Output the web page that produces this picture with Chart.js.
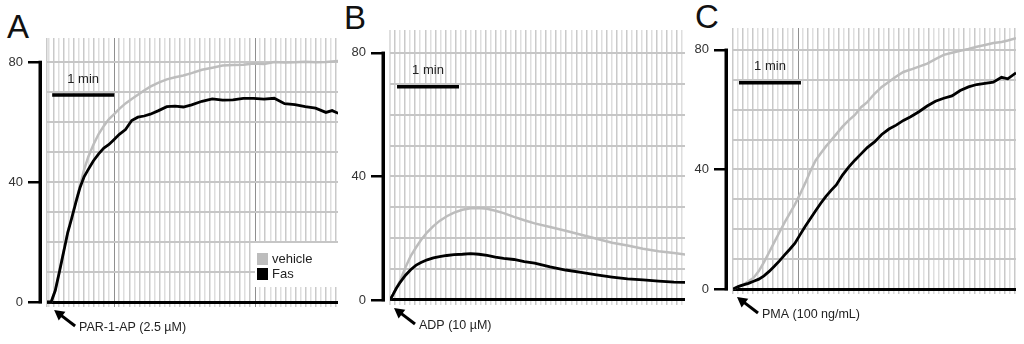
<!DOCTYPE html>
<html>
<head>
<meta charset="utf-8">
<script src="https://cdn.jsdelivr.net/npm/chart.js@4.4.1/dist/chart.umd.min.js"></script>
<style>
  html, body { margin: 0; padding: 0; background: #fff; }
  body { width: 1024px; height: 344px; position: relative; overflow: hidden; font-family: "Liberation Sans", Arial, sans-serif; }
  canvas { position: absolute; top: 0; }
  .letter { position: absolute; font-size: 33px; line-height: 1; color: #111; }
</style>
</head>
<body>
<div class="letter" style="left:7px;top:10px">A</div>
<div class="letter" style="left:344px;top:1px">B</div>
<div class="letter" style="left:695px;top:0px">C</div>
<canvas id="chartA" style="left:0px" width="340" height="344"></canvas>
<canvas id="chartB" style="left:340px" width="350" height="344"></canvas>
<canvas id="chartC" style="left:690px" width="334" height="344"></canvas>
<script>
// time in seconds from the left edge of the chart paper, aggregation in %
const seriesNames = ['vehicle', 'Fas'];
const yAxisTicks = [0, 40, 80];
const yGridTicks = [0, 10, 20, 30, 40, 50, 60, 70, 80];

// A: PAR-1-AP
const aTime = [0,4,8,12,16,20,24,28,32,36,40,45,50,55,60,65,70,76,82,88,94,100,108,116,124,132,140,150,160,170,180,190,200,210,220,230,240,250,260,270,276,282];
const aVehicle = [0,0,4,10.3,16.8,23.3,28.5,33.6,38.8,44.2,48.4,52.5,56,58.7,61,62.6,64.4,66.2,67.7,69.1,70.5,71.8,73.1,74.2,74.9,75.5,76.3,77.4,78.1,78.8,79,79.1,79.5,79.3,80,79.8,79.9,80.1,79.9,80,80.2,80.3];
const aFas = [0,0,3.8,10,16.5,23,28,33.3,38.2,41.8,44.2,47.1,49.4,51.3,52.5,54.2,55.9,57.5,60.5,61.6,62,62.6,63.8,65.1,65.3,65,65.7,66.9,67.7,67.3,67.4,67.9,67.9,67.6,67.9,66.1,65.8,65.1,64.6,63.2,63.8,62.9];

// B: ADP
const bTime = [0,3,6,10,15,20,25,30,36,42,48,55,62,70,78,86,94,102,110,120,130,140,155,170,185,200,215,230,245,260,275,286];
const bVehicle = [0,1.7,3.7,6.4,10.6,14.2,16.9,19.4,21.9,23.9,25.6,27.1,28.3,29.2,29.7,29.8,29.5,28.9,28.1,26.9,25.8,24.8,23.6,22.4,21.1,19.8,18.5,17.6,16.6,15.8,15.2,14.7];
const bFas = [0,1.8,3.7,5.8,8,9.8,11.2,12.1,13,13.6,14,14.4,14.7,14.8,15,14.8,14.4,13.9,13.5,13.1,12.4,11.9,10.7,9.7,8.9,8.1,7.4,6.8,6.5,6.1,5.8,5.7];

// C: PMA
const cTime = [0,5,10,15,20,25,30,35,40,45,50,55,60,65,70,75,80,85,90,95,100,106,112,118,124,130,137,144,151,158,165,172,180,188,196,204,212,220,228,236,244,252,260,266,274];
const cVehicle = [0,0.8,1.5,2.6,3.8,6,9,12.3,15.7,19,22.3,25.3,28.3,31.8,35.5,39.5,43,45.4,47.7,49.7,51.8,54.3,56.4,58.2,60.8,62.5,65.3,67.6,69.3,71.1,72.6,73.4,74.4,75.4,76.9,78.3,79,79.7,80.3,81,81.6,82.3,82.6,83.1,83.9];
const cFas = [0,0.8,1.4,1.9,2.6,3.3,4.4,5.9,7.6,9.4,11.4,13.3,15.3,18.2,21,23.6,26.2,28.7,31,33,34.8,38.1,40.8,43.1,45.2,47.3,49.2,51.7,53.5,54.8,56.4,57.6,59.3,61.2,62.8,63.8,64.6,66.4,67.6,68.4,68.8,69.2,70.8,70.3,72.3];

// darker rulings of the chart paper
const aDarkLines = [65, 201.5];
const bDarkLines = [];
const cDarkLines = [63, 198.5];

const paperStep = 4.875;
const FONT = '"Liberation Sans", Arial, sans-serif';

function toPoints(t, v) {
  return t.map((x, i) => ({ x: x, y: v[i] }));
}

function paperTicks(max, dark) {
  const ticks = [0];
  const ref = dark.length ? dark[0] : 0;
  let t = ref - Math.floor(ref / paperStep) * paperStep;
  for (; t <= max; t += paperStep) ticks.push(+t.toFixed(2));
  dark.forEach(d => ticks.push(d));
  return ticks.sort((p, q) => p - q);
}

const paperNotes = {
  id: 'paperNotes',
  afterDatasetsDraw(chart, args, o) {
    const { ctx, chartArea } = chart;
    const x = chart.scales.x, y = chart.scales.y, ax = chart.scales.yAxis;
    ctx.save();

    // y axis line, only between 0 and 80
    ctx.strokeStyle = '#000';
    ctx.lineWidth = 3.5;
    ctx.beginPath();
    ctx.moveTo(ax.right - 1.75, ax.getPixelForValue(0) + 1.3);
    ctx.lineTo(ax.right - 1.75, ax.getPixelForValue(80) - 1.3);
    ctx.stroke();

    // 1 min scale bar
    const bx0 = x.getPixelForValue(o.barStart);
    const bx1 = x.getPixelForValue(o.barStart + 60);
    const by = y.getPixelForValue(o.barLevel);
    ctx.lineWidth = 3.5;
    ctx.beginPath();
    ctx.moveTo(bx0, by);
    ctx.lineTo(bx1, by);
    ctx.stroke();
    ctx.fillStyle = '#222';
    ctx.font = '13px ' + FONT;
    ctx.textAlign = 'center';
    ctx.textBaseline = 'middle';
    ctx.fillText('1 min', (bx0 + bx1) / 2, by - 16);

    // agonist arrow
    const tipX = x.getPixelForValue(o.injectAt) + 4;
    const tipY = y.getPixelForValue(0) + 8;
    const tailX = tipX + 21, tailY = tipY + 16;
    const ang = Math.atan2(tipY - tailY, tipX - tailX);
    ctx.lineWidth = 3;
    ctx.beginPath();
    ctx.moveTo(tailX, tailY);
    ctx.lineTo(tipX + 6 * Math.cos(ang + Math.PI), tipY + 6 * Math.sin(ang + Math.PI));
    ctx.stroke();
    ctx.fillStyle = '#000';
    ctx.beginPath();
    ctx.moveTo(tipX, tipY);
    ctx.lineTo(tipX - 10 * Math.cos(ang) - 5.5 * Math.sin(ang), tipY - 10 * Math.sin(ang) + 5.5 * Math.cos(ang));
    ctx.lineTo(tipX - 10 * Math.cos(ang) + 5.5 * Math.sin(ang), tipY - 10 * Math.sin(ang) - 5.5 * Math.cos(ang));
    ctx.closePath();
    ctx.fill();
    ctx.fillStyle = '#222';
    ctx.font = '12.5px ' + FONT;
    ctx.textAlign = 'left';
    ctx.fillText(o.agonist, tailX + 4, tailY + 1.5);

    // legend box (panel A only)
    if (o.legend) {
      const lx = chartArea.right - 83;
      const ly = y.getPixelForValue(0) - 59;
      ctx.fillStyle = '#fff';
      ctx.fillRect(lx, ly, chartArea.right - lx, 44);
      ctx.font = '13px ' + FONT;
      chart.data.datasets.forEach((ds, i) => {
        ctx.fillStyle = ds.borderColor;
        ctx.fillRect(lx + 2, ly + 10 + i * 15, 11, 12);
        ctx.fillStyle = '#222';
        ctx.fillText(ds.label, lx + 17, ly + 16.5 + i * 15);
      });
    }
    ctx.restore();
  }
};

function makePanel(id, cfg) {
  const darkSet = new Set(cfg.dark);
  new Chart(document.getElementById(id), {
    type: 'line',
    data: {
      datasets: [
        { label: seriesNames[0], data: toPoints(cfg.time, cfg.vehicle), borderColor: '#bdbdbd', borderWidth: 2.5, order: 1 },
        { label: seriesNames[1], data: toPoints(cfg.time, cfg.fas), borderColor: '#000000', borderWidth: 2.8, order: 0 }
      ]
    },
    options: {
      responsive: false,
      animation: false,
      layout: { padding: cfg.padding },
      elements: { point: { radius: 0 }, line: { tension: 0 } },
      plugins: {
        legend: { display: false },
        tooltip: { enabled: false },
        paperNotes: { barStart: cfg.barStart, barLevel: 69, injectAt: cfg.injectAt, agonist: cfg.agonist, legend: cfg.legend }
      },
      scales: {
        x: {
          type: 'linear', position: 'bottom', min: 0, max: cfg.xMax,
          ticks: { display: false, autoSkip: false },
          border: { display: false },
          grid: {
            drawTicks: false,
            color: c => darkSet.has(c.tick.value) ? '#8f8f8f' : (c.index % 2 ? '#dedede' : '#c9c9c9'),
            lineWidth: c => darkSet.has(c.tick.value) ? 1 : 1.5
          },
          afterBuildTicks: s => { s.ticks = paperTicks(cfg.xMax, cfg.dark).map(v => ({ value: v })); },
          afterFit: s => { s.height = 0; }
        },
        y: {
          type: 'linear', position: 'left', weight: 0, min: -1.5, max: cfg.yMax,
          ticks: { display: false, autoSkip: false },
          border: { display: false },
          grid: {
            drawTicks: false,
            color: c => c.tick.value === 0 ? '#000000' : '#c6c6c6',
            lineWidth: c => c.tick.value === 0 ? 3 : 2
          },
          afterBuildTicks: s => { s.ticks = yGridTicks.map(v => ({ value: v })); },
          afterFit: s => { s.width = cfg.gap; }
        },
        yAxis: {
          type: 'linear', position: 'left', weight: 1, min: -1.5, max: cfg.yMax,
          ticks: { autoSkip: false, padding: 5, color: '#333', font: { family: FONT, size: 13 } },
          border: { display: false },
          grid: { drawOnChartArea: false, drawTicks: true, tickLength: 14, color: '#000', lineWidth: 2.5 },
          afterBuildTicks: s => { s.ticks = yAxisTicks.map(v => ({ value: v })); },
          afterFit: s => { s.width = cfg.axisW; }
        }
      }
    },
    plugins: [paperNotes]
  });
}

makePanel('chartA', {
  time: aTime, vehicle: aVehicle, fas: aFas, dark: aDarkLines,
  xMax: 281.7, yMax: 88, axisW: 42, gap: 5,
  padding: { top: 38, bottom: 37.5, left: 0, right: 2 },
  barStart: 5, injectAt: 3, agonist: 'PAR-1-AP (2.5 µM)', legend: true
});
makePanel('chartB', {
  time: bTime, vehicle: bVehicle, fas: bFas, dark: bDarkLines,
  xMax: 285.6, yMax: 87.4, axisW: 45, gap: 5,
  padding: { top: 30, bottom: 39.4, left: 0, right: 5 },
  barStart: 6.8, injectAt: 0, agonist: 'ADP (10 µM)', legend: false
});
makePanel('chartC', {
  time: cTime, vehicle: cVehicle, fas: cFas, dark: cDarkLines,
  xMax: 274, yMax: 87.3, axisW: 38, gap: 5,
  padding: { top: 28, bottom: 50.5, left: 0, right: 8 },
  barStart: 5.8, injectAt: 0, agonist: 'PMA (100 ng/mL)', legend: false
});
</script>
</body>
</html>
